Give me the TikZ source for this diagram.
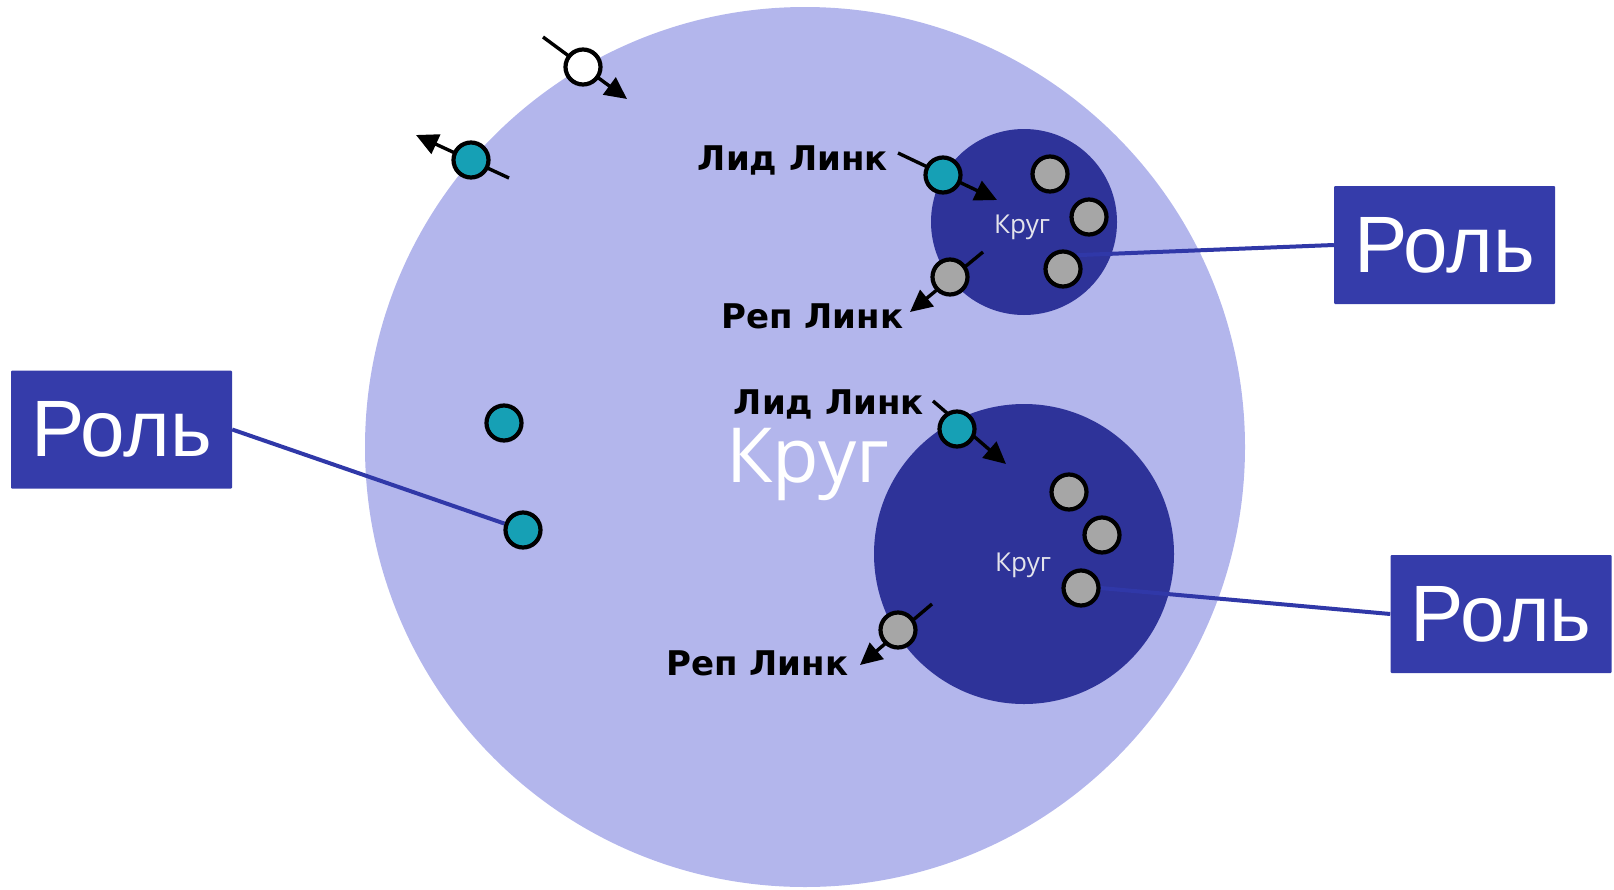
\documentclass[tikz,border=0pt]{standalone}
\usepackage{fontspec}
\setmainfont{DejaVu Sans}
\newfontfamily\rolefont{Liberation Sans}
\newfontfamily\krugfont{Open Sans}
\newfontfamily\linkfont{DejaVu Sans}
\usetikzlibrary{arrows.meta}
\pgfdeclarelayer{bg}
\pgfdeclarelayer{lines}
\pgfsetlayers{bg,lines,main}
\definecolor{bigc}{HTML}{B3B6EC}
\definecolor{innerc}{HTML}{2E3399}
\definecolor{boxc}{HTML}{353CAA}
\definecolor{tealc}{HTML}{16A0B5}
\definecolor{grayc}{HTML}{A6A6A6}
\definecolor{linec}{HTML}{3038A8}
\definecolor{smallk}{HTML}{E4E4EC}
\begin{document}
\begin{tikzpicture}[x=1pt,y=-1pt,
  dot/.style={circle, draw=black, line width=4.2pt, minimum size=35pt, inner sep=0pt},
  tealdot/.style={dot, fill=tealc},
  graydot/.style={dot, fill=grayc},
  whitedot/.style={dot, fill=white},
  arr/.style={line width=3.4pt, -{Triangle[length=22pt,width=21pt]}},
  roleline/.style={draw=linec, line width=4pt},
  rolebox/.style={fill=boxc, text=white, font=\rolefont\fontsize{80}{80}\selectfont,
    minimum width=221pt, minimum height=118pt, inner sep=0pt, rounded corners=1pt},
  linklabel/.style={font=\linkfont\bfseries\fontsize{34}{34}\selectfont, text=black, inner sep=0pt},
  smallkrug/.style={font=\krugfont\fontsize{26}{26}\selectfont, text=smallk, inner sep=0pt},
  bigkrug/.style={font=\krugfont\fontsize{76}{76}\selectfont, text=white, inner sep=0pt}
]
\useasboundingbox (0,0) rectangle (1614,889);

\begin{pgfonlayer}{bg}
\node[circle, fill=bigc, minimum size=880pt, inner sep=0pt] (big) at (805,447) {};
\node[circle, fill=innerc, minimum size=186pt, inner sep=0pt] (c1) at (1024,222) {};
\node[circle, fill=innerc, minimum size=300pt, inner sep=0pt] (c2) at (1024,554) {};
\end{pgfonlayer}

% dots
\node[whitedot] (w1) at (583,67) {};
\node[tealdot] (t1) at (471,160) {};
\node[tealdot] (t3) at (943,175) {};
\node[graydot] (g11) at (1050,174) {};
\node[graydot] (g12) at (1089,217) {};
\node[graydot] (g13) at (1063,269) {};
\node[graydot] (r1) at (950,277) {};
\node[tealdot] (t4) at (957,429) {};
\node[graydot] (g21) at (1069,492) {};
\node[graydot] (g22) at (1102,535) {};
\node[graydot] (g23) at (1081,588) {};
\node[graydot] (r2) at (898,630) {};
\node[tealdot] (tl1) at (504,423) {};
\node[tealdot] (tl2) at (523,530) {};

% arrow end coordinates
\coordinate (w1s) at (543,37);  \coordinate (w1e) at (627,99);
\coordinate (t1s) at (509,178); \coordinate (t1e) at (416,135);
\coordinate (t3s) at (898,153); \coordinate (t3e) at (997,200);
\coordinate (r1s) at (983,252); \coordinate (r1e) at (910,312);
\coordinate (t4s) at (933,401); \coordinate (t4e) at (1006,464);
\coordinate (r2s) at (932,604); \coordinate (r2e) at (860,665);

% role boxes
\node[rolebox] (role1) at (121.5,429.5) {Роль};
\node[rolebox] (role2) at (1444.5,245) {Роль};
\node[rolebox] (role3) at (1501,614) {Роль};

\begin{pgfonlayer}{lines}
\draw[arr] (w1s) -- (w1e);
\draw[arr] (t1s) -- (t1e);
\draw[arr] (t3s) -- (t3e);
\draw[arr] (r1s) -- (r1e);
\draw[arr] (t4s) -- (t4e);
\draw[arr] (r2s) -- (r2e);
\draw[roleline] (role1.east) -- (tl2);
\draw[roleline] (g13.45) -- (role2.west);
\draw[roleline] (g23.east) -- (role3.west);
\end{pgfonlayer}

% labels
\node[linklabel, anchor=base east] (lid1) at (888,170) {Лид Линк};
\node[linklabel, anchor=base west] (rep1) at (721,328) {Реп Линк};
\node[linklabel, anchor=base east] (lid2) at (924,414) {Лид Линк};
\node[linklabel, anchor=base west] (rep2) at (666,675) {Реп Линк};
\node[bigkrug, anchor=base west] (bigk) at (726,482) {Круг};
\node[smallkrug, anchor=base west] (k1) at (994,233) {Круг};
\node[smallkrug, anchor=base west] (k2) at (995,571) {Круг};
\end{tikzpicture}
\end{document}
